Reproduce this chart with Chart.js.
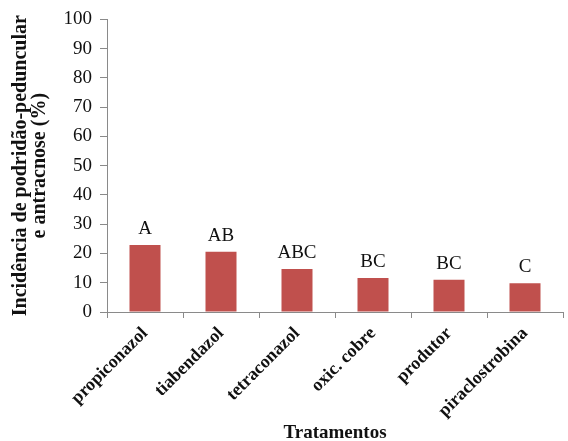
<!DOCTYPE html>
<html lang="pt">
<head>
    <meta charset="UTF-8" />
    <title>Incidência de podridão-peduncular e antracnose</title>
    <script src="https://cdn.jsdelivr.net/npm/chart.js@4.4.0/dist/chart.umd.min.js"></script>
    <style>
        html, body { margin: 0; padding: 0; background: #fff; }
        #wrap { width: 568px; height: 441px; }
    </style>
</head>
<body>
    <div id="wrap"><canvas id="chart"></canvas></div>
    <script>
        const treatments = ['propiconazol', 'tiabendazol', 'tetraconazol', 'oxic. cobre', 'produtor', 'piraclostrobina'];
        const incidence = [22.9, 20.6, 14.7, 11.6, 11.0, 9.8];
        const letters = ['A', 'AB', 'ABC', 'BC', 'BC', 'C'];
        const yTicks = [0, 10, 20, 30, 40, 50, 60, 70, 80, 90, 100];

        const serif = "'Liberation Serif', 'Times New Roman', serif";
        const axisGrey = '#8a8a8a';

        // letras de significancia acima das barras
        const letterPlugin = {
            id: 'letters',
            afterDatasetsDraw(chart) {
                const ctx = chart.ctx;
                const meta = chart.getDatasetMeta(0);
                ctx.save();
                ctx.font = '19px ' + serif;
                ctx.fillStyle = '#111';
                ctx.textAlign = 'center';
                ctx.textBaseline = 'alphabetic';
                meta.data.forEach((bar, i) => {
                    ctx.fillText(letters[i], bar.x, bar.y - 11);
                });
                ctx.restore();
            }
        };

        const ctx = document.getElementById('chart').getContext('2d');
        new Chart(ctx, {
            type: 'bar',
            data: {
                labels: treatments,
                datasets: [{
                    data: incidence,
                    backgroundColor: '#c0504d',
                    borderWidth: 0,
                    barPercentage: 0.6,
                    categoryPercentage: 0.68
                }]
            },
            options: {
                responsive: true,
                maintainAspectRatio: false,
                animation: false,
                layout: { padding: { top: 19, right: 5, left: 0, bottom: 0 } },
                plugins: {
                    legend: { display: false },
                    tooltip: { enabled: false }
                },
                scales: {
                    x: {
                        offset: true,
                        grid: {
                            display: true,
                            offset: true,
                            drawOnChartArea: false,
                            tickLength: 6,
                            color: axisGrey
                        },
                        border: { color: axisGrey, width: 1 },
                        ticks: {
                            maxRotation: 45,
                            minRotation: 45,
                            padding: 5,
                            color: '#111',
                            font: { family: serif, size: 18, weight: 'bold' }
                        },
                        title: {
                            display: true,
                            text: 'Tratamentos',
                            color: '#111',
                            padding: { top: 0, bottom: -3 },
                            font: { family: serif, size: 19, weight: 'bold' }
                        },
                        afterFit(scale) { scale.height = 129; }
                    },
                    y: {
                        min: 0,
                        max: 100,
                        afterBuildTicks(scale) {
                            scale.ticks = yTicks.map(v => ({ value: v }));
                        },
                        grid: {
                            display: true,
                            drawOnChartArea: false,
                            tickLength: 7,
                            color: axisGrey
                        },
                        border: { color: axisGrey, width: 1 },
                        ticks: {
                            padding: 8,
                            color: '#111',
                            font: { family: serif, size: 19 }
                        },
                        title: {
                            display: true,
                            text: ['Incidência de podridão-peduncular', 'e antracnose (%)'],
                            color: '#111',
                            padding: { top: 12, bottom: 0 },
                            font: { family: serif, size: 20, weight: 'bold', lineHeight: 0.92 }
                        },
                        afterFit(scale) { scale.width = 107; }
                    }
                }
            },
            plugins: [letterPlugin]
        });
    </script>
</body>
</html>
